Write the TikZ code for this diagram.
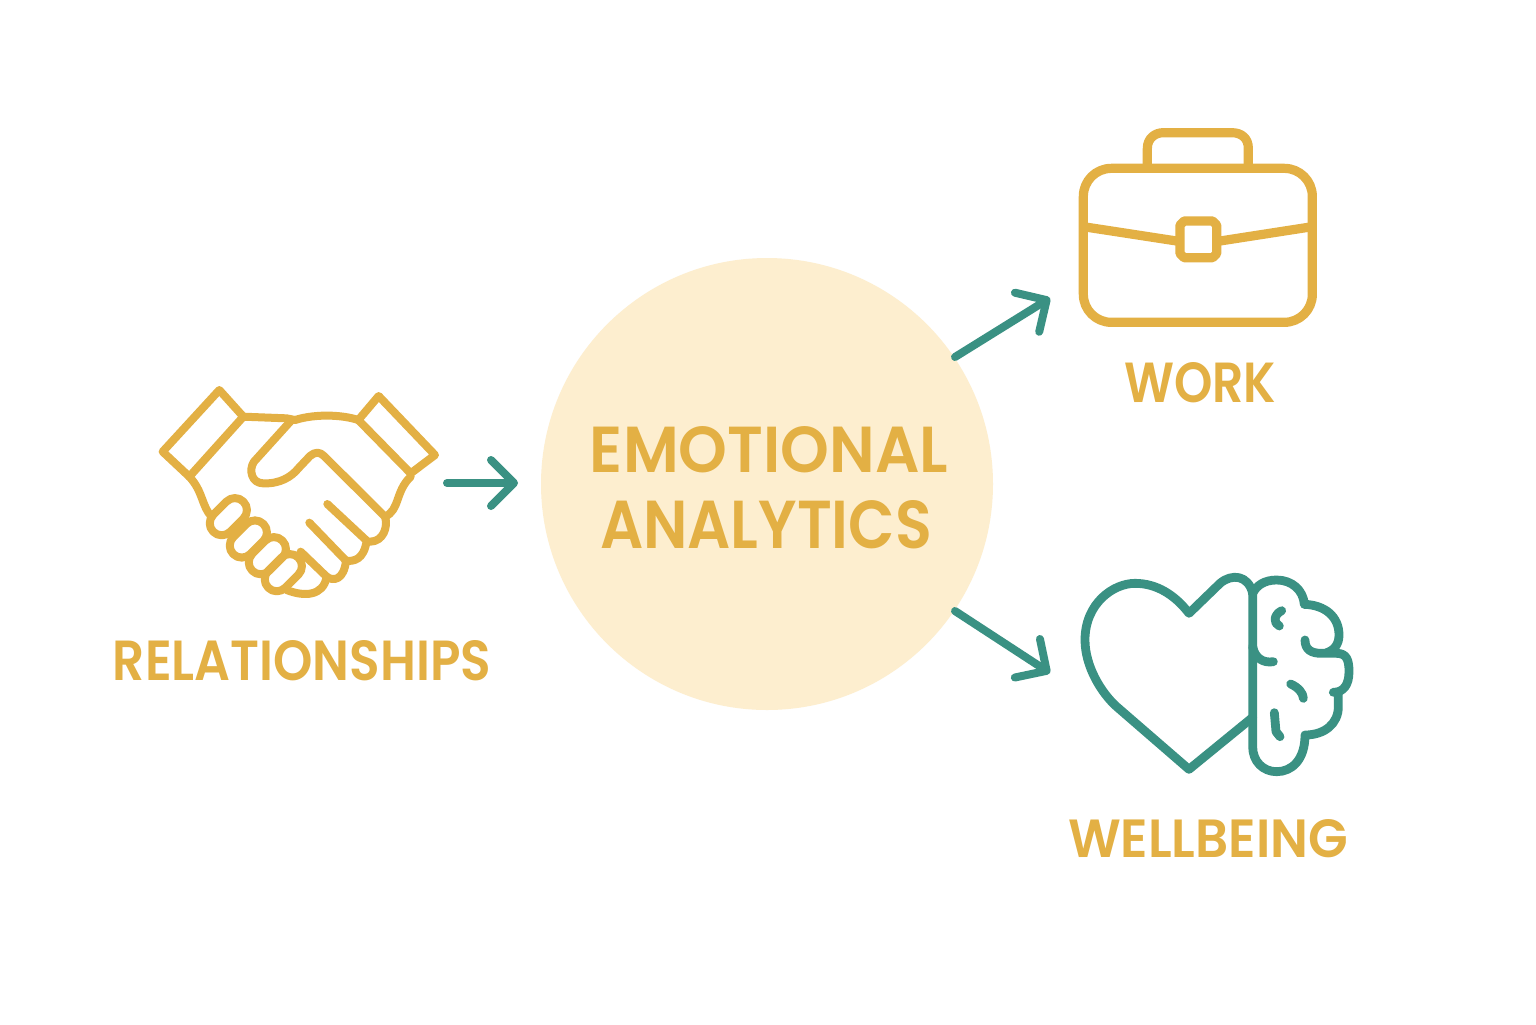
\documentclass[tikz,border=0pt]{standalone}
\usepackage{fontspec}
\usepackage{graphicx}
\setmainfont{Poppins}[BoldFont=* SemiBold]
\usetikzlibrary{arrows.meta}
\definecolor{gold}{HTML}{E3B044}
\definecolor{teal2}{HTML}{3A9183}
\definecolor{cream}{HTML}{FDEECF}
\newcommand{\fitlabel}[3]{\resizebox{#1pt}{#2pt}{\bfseries #3}}
\tikzset{
  px/.style={x=0.5pt,y=-0.5pt},
  icongold/.style={draw=gold,line width=4pt,line join=round,line cap=round},
  casegold/.style={draw=gold,line width=4.6pt,line join=round},
  iconteal/.style={draw=teal2,line width=4.4pt,line join=round,line cap=round},
  conn/.style={draw=teal2,line width=4pt,line cap=round,line join=round,-{Straight Barb[length=11.5pt,width=23pt,line cap=round,round]}},
  lab/.style={text=gold,inner sep=0pt,anchor=center},
  hub/.style={circle,fill=cream,inner sep=0pt,minimum size=226pt}
}
\begin{document}
\begin{tikzpicture}[px]
\useasboundingbox (0,0) rectangle (1536,1024);
\fill[white] (0,0) rectangle (1536,1024);
\node[hub] (hub) at (767,484) {};
\node[lab] (t1) at (769,450) {\fitlabel{179}{23}{EMOTIONAL}};
\node[lab] (t2) at (766,525) {\fitlabel{166}{24}{ANALYTICS}};
\node[lab] (t3) at (302,661) {\fitlabel{189}{20}{RELATIONSHIPS}};
\node[lab] (t4) at (1200,383) {\fitlabel{76}{20}{WORK}};
\node[lab] (t5) at (1208,839) {\fitlabel{140}{19}{WELLBEING}};
% connector ends
\coordinate (hs) at (447,483);
\coordinate (hubin) at (518,483);
\coordinate (hubA) at (955,357);
\coordinate (workin) at (1050,298);
\coordinate (hubB) at (955,611);
\coordinate (wellin) at (1050,673);
\draw[conn] (hs) -- (hubin);
\draw[conn] (hubA) -- (workin);
\draw[conn] (hubB) -- (wellin);
% handshake
\begin{scope}[shift={(140,370)},scale=1/3]
\draw[icongold] (238,60) -- (310,140) -- (148,320) -- (68,245) -- cycle;
\draw[icongold] (716,78) -- (885,255) -- (812,310) -- (655,150) -- cycle;
\draw[icongold] (148,320) .. controls (190,365) and (185,410) .. (215,440);
\draw[icongold] (310,140) -- (440,145) -- (465,150);
\draw[icongold] (465,150) .. controls (530,130) and (610,135) .. (655,150);
\draw[icongold] (455,150) -- (342,275) .. controls (325,300) and (335,340) .. (370,340)
  .. controls (420,342) and (455,320) .. (475,295) -- (510,258)
  .. controls (525,245) and (540,245) .. (552,258) -- (735,440)
  .. controls (745,470) and (730,515) .. (690,515);
\draw[icongold] (812,320) .. controls (765,365) and (780,420) .. (735,440);
% right-hand fingers
\draw[icongold] (562,402) -- (680,512) .. controls (672,570) and (640,575) .. (618,572);
\draw[icongold] (508,458) -- (618,572) .. controls (612,630) and (580,635) .. (560,620);
\draw[icongold] (482,545) -- (560,620) .. controls (550,680) and (490,680) .. (440,660);
% left-hand fingers
\foreach \cx/\cy in {265/440,325/507,382/557,430/608}{
  \fill[white,rounded corners=6pt,shift={(\cx,\cy)},rotate=45] (-64,-36) rectangle (64,36);
}
\foreach \cx/\cy in {265/440,325/507,382/557,430/608}{
  \draw[icongold,rounded corners=6pt,shift={(\cx,\cy)},rotate=45] (-64,-36) rectangle (64,36);
}
\end{scope}
% briefcase
\begin{scope}[shift={(1060,110)},scale=1/3]
\draw[casegold,rounded corners=14pt] (70,175) rectangle (757,637);
\draw[casegold] (262,175) -- (262,115) .. controls (262,85) and (285,68) .. (310,68) -- (515,68) .. controls (545,68) and (565,85) .. (565,115) -- (565,175);
\draw[casegold] (70,350) -- (350,393);
\draw[casegold] (480,393) -- (757,350);
\draw[casegold] (372,333) -- (458,333) -- (470,345) -- (470,431) -- (458,443) -- (372,443) -- (360,431) -- (360,345) -- cycle;
\end{scope}
% heart and brain
\begin{scope}[shift={(1060,560)},scale=1/3]
\draw[iconteal] (578,472) -- (387,628) -- (170,440) .. controls (125,400) and (75,320) .. (75,240)
  .. controls (75,130) and (160,70) .. (225,70) .. controls (290,70) and (345,105) .. (387,160)
  -- (480,70) .. controls (515,40) and (565,45) .. (578,100);
\draw[iconteal] (578,100) -- (578,560) .. controls (578,605) and (610,635) .. (650,635)
  .. controls (695,635) and (735,600) .. (735,525) .. controls (795,525) and (835,490) .. (835,440) -- (835,397);
\draw[iconteal] (820,397) .. controls (850,397) and (867,375) .. (867,335) .. controls (867,300) and (860,280) .. (830,280)
  -- (785,280) .. controls (755,280) and (735,270) .. (735,240);
\draw[iconteal] (800,278) .. controls (825,270) and (837,250) .. (837,225) .. controls (837,170) and (795,135) .. (733,133)
  .. controls (730,90) and (695,60) .. (650,60) .. controls (615,60) and (590,75) .. (578,100);
\draw[iconteal] (578,260) .. controls (585,295) and (610,310) .. (640,305);
\draw[iconteal] (665,152) .. controls (640,165) and (640,190) .. (658,198);
\draw[iconteal] (692,372) .. controls (715,382) and (730,400) .. (730,415);
\draw[iconteal] (643,458) -- (648,515) -- (660,530);
\end{scope}
\end{tikzpicture}
\end{document}
